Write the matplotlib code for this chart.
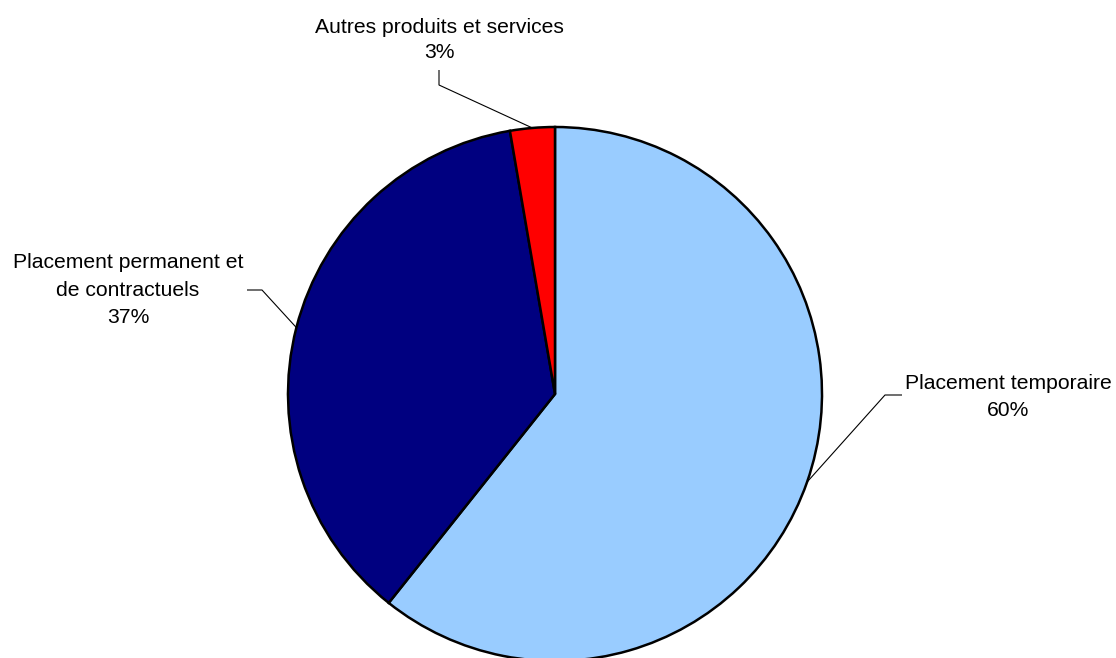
import numpy as np
import matplotlib.pyplot as plt

plt.rcParams['font.family'] = ['Liberation Sans', 'DejaVu Sans']

labels = ["Placement temporaire", "Placement permanent et\nde contractuels", "Autres produits et services"]
values = [60.7, 36.6, 2.7]
pct_labels = ["60%", "37%", "3%"]
colors = ["#99ccff", "#000080", "#ff0000"]

W, H = 1116, 658
fig = plt.figure(figsize=(W / 100, H / 100), dpi=100)
ax = fig.add_axes([0, 0, 1, 1])

cx, cy, r = 555, H - 394, 267
wedges, _ = ax.pie(values, colors=colors, startangle=90, counterclock=False,
                   center=(cx, cy), radius=r, frame=True,
                   wedgeprops=dict(edgecolor="black", linewidth=1.8))
ax.set_xlim(0, W)
ax.set_ylim(0, H)
ax.set_aspect("equal")
ax.axis("off")

# leader lines: (elbow, end of short segment, text centre, line spacing) in pixels from top
guides = [
    ((885, 395), (902, 395), (1008, 397), 1.55),
    ((262, 290), (247, 290), (128, 290), 1.55),
    ((439, 85), (439, 70), (439, 40), 1.42),
]
for w, lab, pct, (elb, end, tp, ls) in zip(wedges, labels, pct_labels, guides):
    ang = np.deg2rad((w.theta1 + w.theta2) / 2)
    px, py = cx + r * np.cos(ang), cy + r * np.sin(ang)
    ax.plot([px, elb[0], end[0]], [py, H - elb[1], H - end[1]],
            color="black", lw=0.8, solid_capstyle="butt")
    ax.text(tp[0], H - tp[1], f"{lab}\n{pct}", ha="center", va="center",
            fontsize=15.2, linespacing=ls, color="black")

fig.savefig("out.png", dpi=100)
